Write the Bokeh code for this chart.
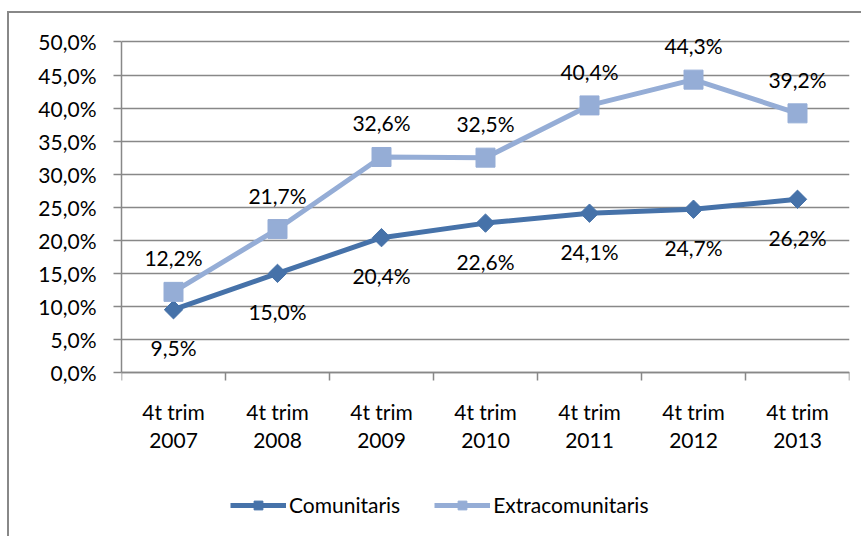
from bokeh.plotting import figure
from bokeh.models import FixedTicker, ColumnDataSource, LabelSet, Legend, LegendItem
from bokeh.core.properties import value
from bokeh.embed import file_html
from bokeh.resources import INLINE
import math

categories = ["4t trim\n2007", "4t trim\n2008", "4t trim\n2009", "4t trim\n2010",
              "4t trim\n2011", "4t trim\n2012", "4t trim\n2013"]
comunitaris = [9.5, 15.0, 20.4, 22.6, 24.1, 24.7, 26.2]
extracomunitaris = [12.2, 21.7, 32.6, 32.5, 40.4, 44.3, 39.2]
y_ticks = [0, 5, 10, 15, 20, 25, 30, 35, 40, 45, 50]

FONT = "Lato"
FS = "21px"
DARK = "#4672A9"
LIGHT = "#95ADD6"
GRAY = "#888888"

xs = [i + 0.5 for i in range(len(categories))]

def fmt(v):
    return ("%.1f" % v).replace(".", ",") + "%"

src_c = ColumnDataSource(dict(x=xs, y=comunitaris, t=[fmt(v) for v in comunitaris]))
src_e = ColumnDataSource(dict(x=xs, y=extracomunitaris, t=[fmt(v) for v in extracomunitaris]))

# frame extends below the x axis so that the legend sits inside it
p = figure(frame_width=728, frame_height=521, output_backend="svg", toolbar_location=None,
           x_range=(0, len(categories)), y_range=(-24.8, 54),
           min_border_left=112, min_border_right=12, min_border_top=2, min_border_bottom=0)
p.styles = {"border-top": "2px solid #888888", "border-left": "2px solid #888888",
            "margin-top": "11px", "margin-left": "7px"}
p.outline_line_color = None
p.xgrid.visible = False
p.ygrid.grid_line_color = GRAY
p.ygrid.grid_line_width = 1.5
p.ygrid.ticker = FixedTicker(ticks=y_ticks)

# y axis
p.yaxis.ticker = FixedTicker(ticks=y_ticks)
p.yaxis.bounds = (0, 50)
p.yaxis.major_label_overrides = {t: ("%.1f" % t).replace(".", ",") + "%" for t in y_ticks}
p.yaxis.axis_line_color = GRAY
p.yaxis.axis_line_width = 1.5
p.yaxis.major_tick_line_color = GRAY
p.yaxis.major_tick_line_width = 1.5
p.yaxis.major_tick_out = 8
p.yaxis.major_tick_in = 0
p.yaxis.minor_tick_line_color = None
p.yaxis.major_label_standoff = 17
p.yaxis.major_label_text_font = FONT
p.yaxis.major_label_text_font_size = FS
p.yaxis.major_label_text_color = "#000000"

# x axis (drawn at y = 0)
p.xaxis.fixed_location = 0
p.xaxis.ticker = FixedTicker(ticks=xs, minor_ticks=list(range(len(categories) + 1)))
p.xaxis.major_label_overrides = {x: c for x, c in zip(xs, categories)}
p.xaxis.axis_line_color = GRAY
p.xaxis.axis_line_width = 1.5
p.xaxis.major_tick_line_color = None
p.xaxis.major_tick_out = 0
p.xaxis.major_tick_in = 0
p.xaxis.minor_tick_line_color = GRAY
p.xaxis.minor_tick_line_width = 1.5
p.xaxis.minor_tick_out = 8
p.xaxis.minor_tick_in = 0
p.xaxis.major_label_standoff = 18
p.xaxis.major_label_text_font = FONT
p.xaxis.major_label_text_font_size = FS
p.xaxis.major_label_text_color = "#000000"
p.xaxis.major_label_text_line_height = 1.15

l1 = p.line("x", "y", source=src_c, line_color=DARK, line_width=5)
m1 = p.scatter("x", "y", source=src_c, marker="square", angle=math.pi / 4, size=13,
               fill_color=DARK, line_color=DARK)
l2 = p.line("x", "y", source=src_e, line_color=LIGHT, line_width=5)
m2 = p.scatter("x", "y", source=src_e, marker="square", size=19,
               fill_color=LIGHT, line_color=LIGHT)

lab_c = LabelSet(x="x", y="y", text="t", source=src_c, y_offset=-38,
                 text_align="center", text_baseline="middle",
                 text_font=value(FONT), text_font_size=value(FS), text_color="#000000")
lab_e = LabelSet(x="x", y="y", text="t", source=src_e, y_offset=34,
                 text_align="center", text_baseline="middle",
                 text_font=value(FONT), text_font_size=value(FS), text_color="#000000")
p.add_layout(lab_c)
p.add_layout(lab_e)

legend = Legend(items=[LegendItem(label="Comunitaris", renderers=[l1, m1]),
                       LegendItem(label="Extracomunitaris", renderers=[l2, m2])],
                location=(109, 19), orientation="horizontal",
                glyph_width=56, glyph_height=22, label_standoff=3, spacing=34,
                padding=0, margin=0, border_line_color=None, background_fill_alpha=0,
                label_text_font=FONT, label_text_font_size=FS, label_text_color="#000000")
p.add_layout(legend, "center")

open("out.html", "w").write(file_html(p, INLINE))
